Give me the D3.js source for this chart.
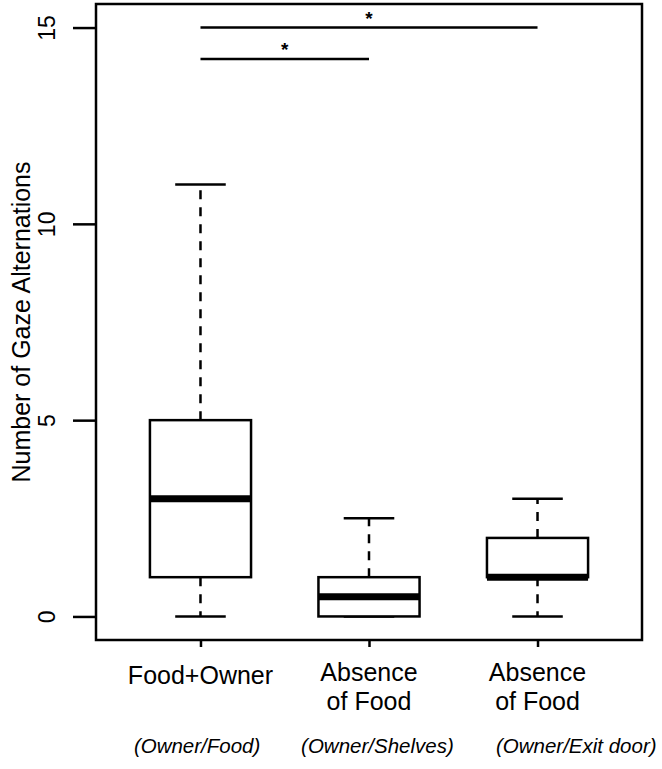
<!DOCTYPE html>
<html><head><meta charset="utf-8">
<script src="https://cdn.jsdelivr.net/npm/d3@7"></script>
<style>body{margin:0;background:#fff}svg{display:block}text{font-family:"Liberation Sans",Arial,sans-serif;fill:#000}</style>
</head><body>
<svg id="chart" width="662" height="769"></svg>
<script>
const categories = ["Food+Owner", "Absence\nof Food", "Absence\nof Food"];
const subLabels = ["(Owner/Food)", "(Owner/Shelves)", "(Owner/Exit door)"];
const whiskerLow = [0, 0, 0];
const q1 = [1, 0, 1];
const median = [3, 0.5, 1];
const q3 = [5, 1, 2];
const whiskerHigh = [11, 2.5, 3];
const yTicks = [0, 5, 10, 15];
const sigFrom = [1, 1];
const sigTo = [2, 3];
const sigLevel = [14.2, 15];
const sigLabel = ["*", "*"];

const svg = d3.select("#chart");
const L = 96, R = 642, T = 4, B = 640;
const x = d3.scaleLinear().domain([0.38, 3.62]).range([L, R]);
const y = d3.scaleLinear().domain([-0.6, 15.6]).range([B, T]);
const boxHalf = 0.3, capHalf = 0.15;

// boxes
const g = svg.append("g");
categories.forEach((c, i) => {
  const cx = i + 1;
  g.append("line").attr("x1", x(cx)).attr("x2", x(cx)).attr("y1", y(q3[i])).attr("y2", y(whiskerHigh[i]))
    .attr("stroke", "#000").attr("stroke-width", 2.5).attr("stroke-dasharray", "9,8");
  g.append("line").attr("x1", x(cx)).attr("x2", x(cx)).attr("y1", y(q1[i])).attr("y2", y(whiskerLow[i]))
    .attr("stroke", "#000").attr("stroke-width", 2.5).attr("stroke-dasharray", "9,8");
  [whiskerLow[i], whiskerHigh[i]].forEach(v => {
    g.append("line").attr("x1", x(cx - capHalf)).attr("x2", x(cx + capHalf)).attr("y1", y(v)).attr("y2", y(v))
      .attr("stroke", "#000").attr("stroke-width", 2.5);
  });
  g.append("rect").attr("x", x(cx - boxHalf)).attr("width", x(cx + boxHalf) - x(cx - boxHalf))
    .attr("y", y(q3[i])).attr("height", y(q1[i]) - y(q3[i]))
    .attr("fill", "#fff").attr("stroke", "#000").attr("stroke-width", 2.5);
  g.append("line").attr("x1", x(cx - boxHalf)).attr("x2", x(cx + boxHalf)).attr("y1", y(median[i])).attr("y2", y(median[i]))
    .attr("stroke", "#000").attr("stroke-width", 7);
});

// plot frame
svg.append("rect").attr("x", L).attr("y", T).attr("width", R - L).attr("height", B - T)
  .attr("fill", "none").attr("stroke", "#000").attr("stroke-width", 2.5);

// y axis
const yAxis = svg.append("g").attr("transform", `translate(${L},0)`)
  .call(d3.axisLeft(y).tickValues(yTicks).tickSize(23).tickFormat(d3.format("d")));
yAxis.select(".domain").remove();
yAxis.selectAll(".tick line").attr("stroke-width", 2.5);
yAxis.selectAll(".tick text").attr("x", null).attr("font-size", 23)
  .attr("text-anchor", "middle")
  .attr("transform", "translate(-49,0) rotate(-90)")
  .attr("dy", "0.35em");

// x axis ticks
const xAxis = svg.append("g").attr("transform", `translate(0,${B})`)
  .call(d3.axisBottom(x).tickValues([1, 2, 3]).tickSize(7).tickFormat(""));
xAxis.select(".domain").remove();
xAxis.selectAll(".tick line").attr("stroke-width", 2.5);

// category labels
categories.forEach((c, i) => {
  const lines = c.split("\n");
  const t = svg.append("text").attr("x", x(i + 1)).attr("text-anchor", "middle").attr("font-size", 25);
  const y0 = lines.length === 1 ? 684 : 681;
  lines.forEach((ln, k) => {
    t.append("tspan").attr("x", x(i + 1)).attr("y", y0 + k * 29).text(ln);
  });
});

// italic sub-labels
const subPos = [0.98, 2.05, 3.23];
subLabels.forEach((s, i) => {
  svg.append("text").attr("x", x(subPos[i])).attr("y", 753).attr("text-anchor", "middle")
    .attr("font-size", 20.5).attr("font-style", "italic").text(s);
});

// y label
svg.append("text").attr("transform", `translate(21,${(T + B) / 2}) rotate(-90)`)
  .attr("text-anchor", "middle").attr("dy", "0.35em").attr("font-size", 25).text("Number of Gaze Alternations");

// significance bars
sigLevel.forEach((v, i) => {
  svg.append("line").attr("x1", x(sigFrom[i])).attr("x2", x(sigTo[i])).attr("y1", y(v)).attr("y2", y(v))
    .attr("stroke", "#000").attr("stroke-width", 2.5);
  svg.append("text").attr("x", x((sigFrom[i] + sigTo[i]) / 2)).attr("y", y(v) - 3)
    .attr("text-anchor", "middle").attr("font-size", 19).attr("font-weight", "bold").text(sigLabel[i]);
});
</script>
</body></html>
